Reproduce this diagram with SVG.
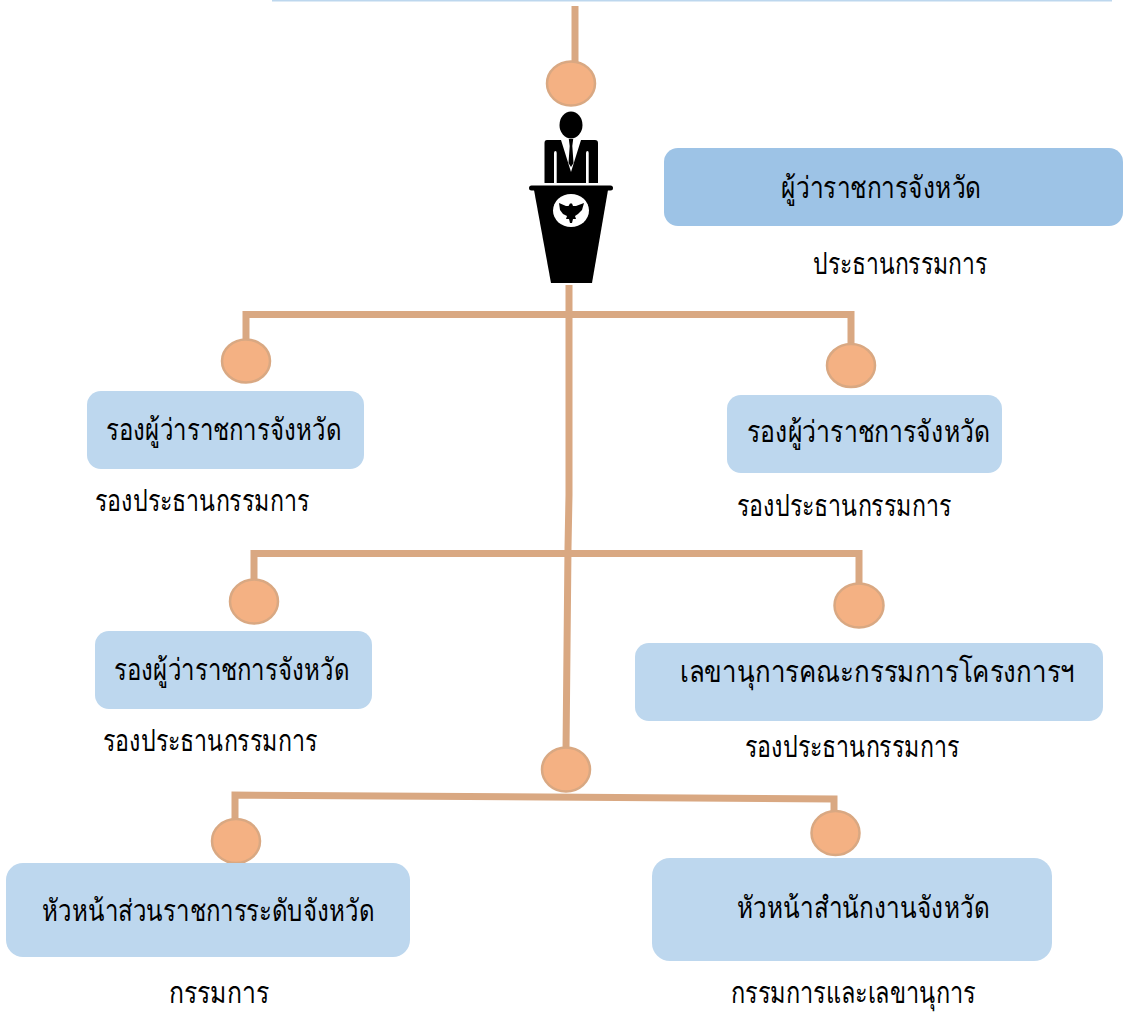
<svg xmlns="http://www.w3.org/2000/svg" width="1130" height="1012" viewBox="0 0 1130 1012">
<style>
.c{fill:none;stroke:#D9A882;stroke-width:7}
.d{fill:#F4B183;stroke:#D9A882;stroke-width:2.500}
.b{fill:#BDD7EE}
.t{font-family:"Noto Sans","Noto Sans CJK SC","DejaVu Sans",sans-serif;font-size:30px;fill:#000}
</style>
<rect width="1130" height="1012" fill="#fff"/>
<rect x="272" y="0" width="840" height="1.500" fill="#BDD7EE"/>
<g id="connectors">
<path class="c" d="M575 6V62"/>
<path class="c" d="M569 285L569 495L568 548L566 750"/>
<path class="c" d="M246 340V314.500H851V345"/>
<path class="c" d="M254 580V553.500H859V585"/>
<path class="c" d="M235 820V795L834 799V812"/>
</g>
<g id="dots">
<ellipse class="d" cx="571" cy="83.500" rx="24" ry="22"/>
<ellipse class="d" cx="246" cy="361" rx="24" ry="21.500"/>
<ellipse class="d" cx="851" cy="365.500" rx="24" ry="21.500"/>
<ellipse class="d" cx="254" cy="601.500" rx="24" ry="22"/>
<ellipse class="d" cx="859" cy="605.500" rx="24.500" ry="22"/>
<ellipse class="d" cx="566" cy="769.500" rx="24" ry="22"/>
<ellipse class="d" cx="236" cy="841" rx="24" ry="22"/>
<ellipse class="d" cx="835.500" cy="833" rx="24" ry="22"/>
</g>
<g id="speaker">
<ellipse cx="571" cy="125" rx="11.500" ry="13.500"/>
<path d="M547 140H561L571 172L581 140H595Q598 140 598 143V183H588.700V153Q588.700 151 587.500 151Q586 151 586 153V183H556.700V153Q556.700 151 555.500 151Q554 151 554 153V183H544.500V143Q544.500 140 547 140Z"/>
<path d="M568.800 139H573.200L572.300 146L573.500 163L571 167L568.500 163L569.700 146Z"/>
<rect x="529" y="185.500" width="84" height="5" rx="2.500"/>
<path d="M534 190H608L592 283H551Z"/>
<ellipse cx="571" cy="210.500" rx="18" ry="16.500" fill="#fff"/>
<path d="M559 203L566 206L568.500 206L570 203.500L572 203.500L573 206L576 206L584 203L582 210L578 214L575 216L576 219L573 219L572 223L570 223L569 219L566 219L567 216L563 214L560 210Z"/>
</g>
<g id="n0"><rect x="664" y="148" width="459" height="78" rx="14" fill="#9DC3E6"/><text class="t" x="781" y="198" textLength="200" lengthAdjust="spacingAndGlyphs">ผู้ว่าราชการจังหวัด</text><text class="t" x="813" y="274" textLength="174" lengthAdjust="spacingAndGlyphs">ประธานกรรมการ</text></g>
<g id="n1"><rect class="b" x="87" y="391" width="277" height="78" rx="14"/><text class="t" x="106" y="440" textLength="235" lengthAdjust="spacingAndGlyphs">รองผู้ว่าราชการจังหวัด</text><text class="t" x="95" y="510.500" textLength="214" lengthAdjust="spacingAndGlyphs">รองประธานกรรมการ</text></g>
<g id="n2"><rect class="b" x="727" y="395" width="275" height="78" rx="14"/><text class="t" x="747" y="442" textLength="243" lengthAdjust="spacingAndGlyphs">รองผู้ว่าราชการจังหวัด</text><text class="t" x="737" y="516" textLength="214" lengthAdjust="spacingAndGlyphs">รองประธานกรรมการ</text></g>
<g id="n3"><rect class="b" x="95" y="631" width="277" height="78" rx="14"/><text class="t" x="114" y="680" textLength="235" lengthAdjust="spacingAndGlyphs">รองผู้ว่าราชการจังหวัด</text><text class="t" x="103" y="750.500" textLength="214" lengthAdjust="spacingAndGlyphs">รองประธานกรรมการ</text></g>
<g id="n4"><rect class="b" x="635" y="643" width="468" height="78" rx="14"/><text class="t" x="680" y="682" textLength="395" lengthAdjust="spacingAndGlyphs">เลขานุการคณะกรรมการโครงการฯ</text><text class="t" x="745" y="756.500" textLength="214" lengthAdjust="spacingAndGlyphs">รองประธานกรรมการ</text></g>
<g id="n5"><rect class="b" x="6" y="863" width="404" height="94" rx="17"/><text class="t" x="42" y="921" textLength="332" lengthAdjust="spacingAndGlyphs">หัวหน้าส่วนราชการระดับจังหวัด</text><text class="t" x="169" y="1003" textLength="100" lengthAdjust="spacingAndGlyphs">กรรมการ</text></g>
<g id="n6"><rect class="b" x="652" y="858" width="400" height="103" rx="18"/><text class="t" x="737" y="918" textLength="252" lengthAdjust="spacingAndGlyphs">หัวหน้าสำนักงานจังหวัด</text><text class="t" x="731" y="1003" textLength="245" lengthAdjust="spacingAndGlyphs">กรรมการและเลขานุการ</text></g>
</svg>
